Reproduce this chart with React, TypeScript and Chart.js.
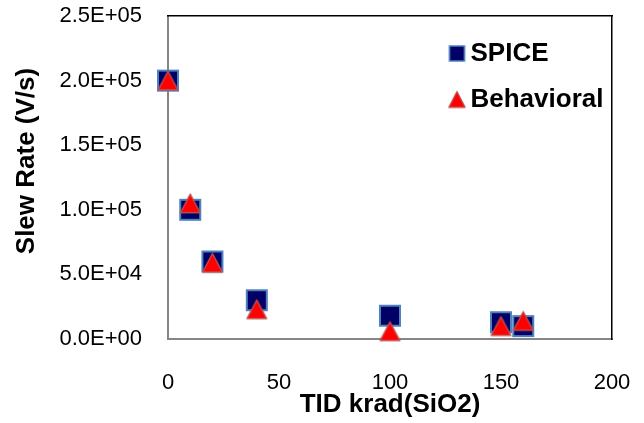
import React, { useEffect, useRef } from 'react';
import { Chart, registerables } from 'chart.js';

Chart.register(...registerables);

// ---- data ----
const SERIES_NAMES = ['SPICE', 'Behavioral'];
const TID_SPICE = [0, 10, 20, 40, 100, 150, 160];
const SLEW_SPICE = [200000, 100000, 60000, 30000, 18000, 13000, 10000];
const TID_BEHAV = [0, 10, 20, 40, 100, 150, 160];
const SLEW_BEHAV = [200000, 105000, 59000, 23000, 6000, 10000, 14000];
const X_TICKS = [0, 50, 100, 150, 200];
const Y_TICK_VALUES = [0, 50000, 100000, 150000, 200000, 250000];
const Y_TICK_LABELS = ['0.0E+00', '5.0E+04', '1.0E+05', '1.5E+05', '2.0E+05', '2.5E+05'];
const X_TITLE = 'TID krad(SiO2)';
const Y_TITLE = 'Slew Rate (V/s)';

// ---- styles ----
const NAVY = '#000066';
const SQ_BORDER = '#4F81BD';
const RED = '#FF0000';
const TRI_BORDER = '#C0504D';
const AXIS_GRAY = '#868686';
const FONT = "'Liberation Sans', Arial, sans-serif";

function squareMarker(outer: number, lw: number): HTMLCanvasElement {
  const c = document.createElement('canvas');
  const s = Math.ceil(outer) + 2;
  c.width = s;
  c.height = s;
  const ctx = c.getContext('2d')!;
  const off = (s - outer) / 2 + lw / 2;
  const side = outer - lw;
  ctx.fillStyle = NAVY;
  ctx.fillRect(off, off, side, side);
  ctx.strokeStyle = SQ_BORDER;
  ctx.lineWidth = lw;
  ctx.strokeRect(off, off, side, side);
  return c;
}

function triangleMarker(w: number, h: number, lw: number): HTMLCanvasElement {
  const c = document.createElement('canvas');
  const s = Math.ceil(Math.max(w, h)) + 4;
  c.width = s;
  c.height = s;
  const ctx = c.getContext('2d')!;
  const cx = s / 2;
  const top = (s - h) / 2 + lw / 2;
  const bottom = (s + h) / 2 - lw / 2;
  ctx.beginPath();
  ctx.moveTo(cx, top);
  ctx.lineTo(cx + w / 2 - lw / 2, bottom);
  ctx.lineTo(cx - w / 2 + lw / 2, bottom);
  ctx.closePath();
  ctx.fillStyle = RED;
  ctx.fill();
  ctx.strokeStyle = TRI_BORDER;
  ctx.lineWidth = lw;
  ctx.lineJoin = 'round';
  ctx.stroke();
  return c;
}

const legendPlacer = {
  id: 'legendPlacer',
  afterLayout(chart: any) {
    const lg = chart.legend;
    if (!lg) return;
    const ca = chart.chartArea;
    const w = lg.right - lg.left;
    const h = lg.bottom - lg.top;
    lg.left = ca.right - 175.5;
    lg.top = ca.top + 4.5;
    lg.right = lg.left + w;
    lg.bottom = lg.top + h;
  },
};

// y-axis title, drawn a little above the plot's centre as in the original
const yTitlePlugin = {
  id: 'yTitlePlugin',
  afterDraw(chart: any) {
    const ctx = chart.ctx;
    const ca = chart.chartArea;
    ctx.save();
    ctx.translate(26.5, (ca.top + ca.bottom) / 2 - 16.5);
    ctx.rotate(-Math.PI / 2);
    ctx.font = `bold 26px ${FONT}`;
    ctx.fillStyle = '#000';
    ctx.textAlign = 'center';
    ctx.textBaseline = 'middle';
    ctx.fillText(Y_TITLE, 0, 0);
    ctx.restore();
  },
};

function zeroPad(s: any) {
  s.paddingLeft = 0;
  s.paddingRight = 0;
  s.paddingTop = 0;
  s.paddingBottom = 0;
}

export default function App() {
  const ref = useRef<HTMLCanvasElement | null>(null);

  useEffect(() => {
    if (!ref.current) return;
    const plotSquare = squareMarker(22, 2);
    const plotTriangle = triangleMarker(21, 20, 1.5);
    const legendSquare = squareMarker(16.5, 1.5);
    const legendTriangle = triangleMarker(17.5, 17, 1.2);
    const legendMarkers = [legendSquare, legendTriangle];

    const chart = new Chart(ref.current, {
      type: 'scatter',
      data: {
        datasets: [
          {
            label: SERIES_NAMES[0],
            data: TID_SPICE.map((x, i) => ({ x, y: SLEW_SPICE[i] })),
            pointStyle: plotSquare as any,
            pointRadius: 11,
            backgroundColor: NAVY,
            borderColor: SQ_BORDER,
            clip: false as any,
            order: 2,
          },
          {
            label: SERIES_NAMES[1],
            data: TID_BEHAV.map((x, i) => ({ x, y: SLEW_BEHAV[i] })),
            pointStyle: plotTriangle as any,
            pointRadius: 11,
            backgroundColor: RED,
            borderColor: TRI_BORDER,
            clip: false as any,
            order: 1,
          },
        ],
      },
      options: {
        responsive: false,
        animation: false,
        layout: { padding: { top: 16, right: 32, bottom: 0, left: 0 } },
        plugins: {
          tooltip: { enabled: false },
          legend: {
            display: true,
            position: 'chartArea' as any,
            align: 'start',
            labels: {
              usePointStyle: true,
              pointStyleWidth: 1,
              padding: 20,
              color: '#000',
              font: { family: FONT, size: 26, weight: 'bold' },
              generateLabels: (c: any) => {
                const items = (Chart.defaults.plugins.legend.labels as any).generateLabels(c);
                return items.map((it: any) => ({ ...it, pointStyle: legendMarkers[it.datasetIndex] }));
              },
              sort: (a: any, b: any) => a.datasetIndex - b.datasetIndex,
            },
          },
        },
        scales: {
          x: {
            type: 'linear',
            position: 'bottom',
            min: 0,
            max: 200,
            afterBuildTicks: (s: any) => {
              s.ticks = X_TICKS.map((v) => ({ value: v }));
            },
            afterFit: (s: any) => {
              s.height = 84;
              zeroPad(s);
            },
            grid: { display: false, drawTicks: false },
            border: { display: true, color: AXIS_GRAY, width: 2 },
            ticks: {
              padding: 31,
              color: '#000',
              font: { family: FONT, size: 22 },
              maxRotation: 0,
            },
            title: {
              display: true,
              text: X_TITLE,
              color: '#000',
              font: { family: FONT, size: 26, weight: 'bold' },
              padding: { top: 0, bottom: 3 },
            },
          },
          y: {
            type: 'linear',
            position: 'left',
            min: 0,
            max: 250000,
            afterBuildTicks: (s: any) => {
              s.ticks = Y_TICK_VALUES.map((v) => ({ value: v }));
            },
            afterFit: (s: any) => {
              s.width = 168;
              zeroPad(s);
            },
            grid: { display: false, drawTicks: false },
            border: { display: true, color: AXIS_GRAY, width: 2 },
            ticks: {
              padding: 26,
              color: '#000',
              font: { family: FONT, size: 22 },
              callback: (v: any) => {
                const i = Y_TICK_VALUES.indexOf(Number(v));
                return i >= 0 ? Y_TICK_LABELS[i] : '';
              },
            },
            title: { display: false, text: Y_TITLE },
          },
          xTop: {
            type: 'linear',
            position: 'top',
            display: true,
            afterFit: (s: any) => {
              s.height = 0;
              zeroPad(s);
            },
            grid: { display: false, drawTicks: false },
            ticks: { display: false },
            border: { display: true, color: '#000', width: 1.5 },
          },
          yRight: {
            type: 'linear',
            position: 'right',
            display: true,
            afterFit: (s: any) => {
              s.width = 0;
              zeroPad(s);
            },
            grid: { display: false, drawTicks: false },
            ticks: { display: false },
            border: { display: true, color: '#000', width: 1.5 },
          },
        },
      } as any,
      plugins: [legendPlacer, yTitlePlugin],
    });
    return () => chart.destroy();
  }, []);

  return (
    <div style={{ position: 'absolute', left: 0, top: 0, width: 644, height: 423, background: '#fff' }}>
      <canvas ref={ref} width={644} height={423} style={{ display: 'block' }} />
    </div>
  );
}
